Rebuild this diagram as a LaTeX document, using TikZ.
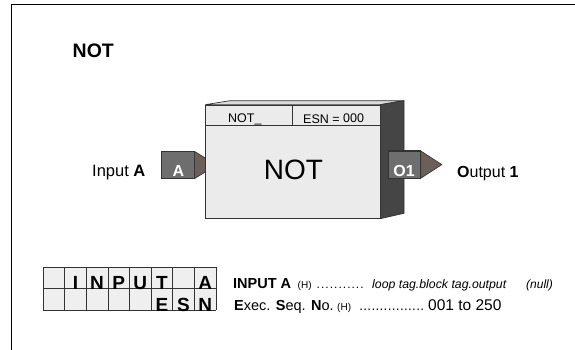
\documentclass[tikz,border=0pt]{standalone}
\usepackage{fontspec}
\setmainfont{Liberation Sans}
\usetikzlibrary{calc}
\definecolor{frontc}{HTML}{EBEBEB}
\definecolor{topc}{HTML}{DCDCDC}
\definecolor{sidec}{HTML}{454545}
\definecolor{portc}{HTML}{6E6E6E}
\definecolor{arrc}{HTML}{6B5F57}
\definecolor{edgec}{HTML}{333333}
\definecolor{cellc}{HTML}{EFEFEF}
\newcommand{\fs}[1]{\fontsize{#1}{#1}\selectfont}
\newcommand{\dotrow}[2]{\hbox to #1{\xleaders\hbox to #2{\hss.\hss}\hfill}}
\begin{document}
\begin{tikzpicture}[x=1pt,y=-1pt,
  txt/.style={inner sep=0pt, anchor=base west},
  portbox/.style={draw=edgec, line width=0.6pt, fill=portc, minimum width=32.6pt, minimum height=26.6pt, inner sep=0pt, text=white, font=\fs{16}\bfseries},
  portarrow/.style={draw=edgec, line width=0.6pt, fill=arrc},
  cellletter/.style={inner sep=0pt, anchor=base, font=\fs{19}\bfseries}]
\useasboundingbox (0,0) rectangle (575,350);
% frame
\draw[line width=1pt] (11.5,350) -- (11.5,5) -- (576,5);
% title
\node[txt, font=\fs{19.5}\bfseries] (title) at (72.5,57.3) {NOT};
% input port
\node[portbox] (inA) at (178,165) {};
\coordinate (inTip) at ($(inA.east)+(22,0)$);
\draw[portarrow] (inA.north east) -- (inTip) -- (inA.south east) -- cycle;
\node[txt, font=\fs{16}\bfseries, text=white, anchor=base] (inAlbl) at (178.5,176) {A};
\draw[edgec, line width=1.4pt] (inA.north west) -- (inA.north east);
% main block
\node[draw=edgec, line width=0.7pt, fill=frontc, minimum width=174.3pt, minimum height=113.3pt, inner sep=0pt] (main) at (292.85,161.65) {};
\coordinate (btl) at (230,100.7);
\coordinate (btr) at (404,100.7);
\coordinate (bbr) at (404,213.3);
\filldraw[fill=topc, draw=edgec, line width=0.7pt] (main.north west) -- (btl) -- (btr) -- (main.north east) -- cycle;
\filldraw[fill=sidec, draw=edgec, line width=0.7pt] (main.north east) -- (btr) -- (bbr) -- (main.south east) -- cycle;
\coordinate (hdrL) at (205.7,125);
\coordinate (hdrR) at (380,125);
\draw[edgec, line width=0.6pt] (hdrL) -- (hdrR);
\draw[edgec, line width=0.6pt] (292,105) -- (292,125);
\node[txt, font=\fs{12.5}] (hdrname) at (228,123) {NOT\_};
\node[txt, font=\fs{12.5}] (hdresn) at (303,123.5) {ESN = \raisebox{1pt}{000}};
\node[txt, font=\fs{28}, anchor=base] (mainlbl) at (293.5,179) {NOT};
% output port
\node[portbox] (out1) at (404.3,164.6) {};
\coordinate (outTip) at ($(out1.east)+(21,0)$);
\draw[portarrow] (out1.north east) -- (outTip) -- (out1.south east) -- cycle;
\draw[edgec, line width=1.4pt] (out1.north west) -- (out1.north east);
\node[txt, font=\fs{16}\bfseries, text=white, anchor=base] (out1lbl) at (404,176.5) {O1};
% labels
\node[txt, font=\fs{16.5}] (inlbl) at (92,176) {Input \textbf{A}};
\node[txt, font=\fs{16}] (outlbl) at (457,177) {\textbf{O}utput \textbf{1}};
% table
\fill[cellc] (43,267) rectangle (216,310);
\foreach \i in {0,...,8} \draw[edgec, line width=0.7pt] ({43+21.625*\i},267) -- ({43+21.625*\i},310);
\foreach \y in {267,288.5,310} \draw[edgec, line width=0.7pt] (43,\y) -- (216,\y);
\foreach \c/\l in {1/I,2/N,3/P,4/U,5/T,7/A}
  \node[cellletter] (t\c) at ({43+21.625*(\c+0.5)},289.5) {\l};
\foreach \c/\l in {5/E,6/S,7/N}
  \node[cellletter] (b\c) at ({43+21.625*(\c+0.5)},311) {\l};
% descriptions
\node[txt, font=\fs{14.5}\bfseries] (r1name) at (233,288) {INPUT A};
\node[txt, font=\fs{10}] (r1h) at (297.5,288) {(H)};
\node[txt, font=\fs{12}] (r1dots) at (316,288) {\dotrow{48pt}{4.3pt}};
\node[txt, font=\fs{12.3}\itshape] (r1val) at (372,288) {loop tag.block tag.output};
\node[txt, font=\fs{12}\itshape] (null) at (526,288) {(null)};
\node[txt, font=\fs{14.5}] (r2name) at (234,310) {\textbf{E}xec. \textbf{S}eq. \textbf{N}o.};
\node[txt, font=\fs{10}] (r2h) at (337,310) {(H)};
\node[txt, font=\fs{13.5}] (r2dots) at (359,310) {\dotrow{65pt}{4.05pt}};
\node[txt, font=\fs{15.5}] (r2val) at (428,310) {001 to 250};
\end{tikzpicture}
\end{document}
